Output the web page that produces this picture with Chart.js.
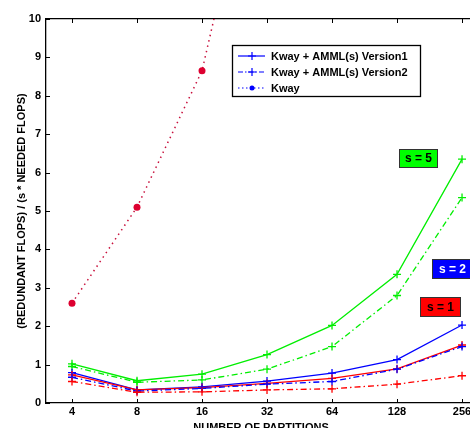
<!DOCTYPE html>
<html>
<head>
<meta charset="utf-8">
<script src="https://cdn.jsdelivr.net/npm/chart.js@4.4.1/dist/chart.umd.min.js"></script>
<style>
  html, body { margin: 0; padding: 0; background: #fff; overflow: hidden; }
  #wrap { width: 490px; height: 440px; }
</style>
</head>
<body>
<div id="wrap"><canvas id="flopsChart" width="490" height="440"></canvas></div>
<script>
const partitions = [4, 8, 16, 32, 64, 128, 256];
const kway = [2.6, 5.1, 8.65, 16];
const s5v1 = [1.02, 0.58, 0.75, 1.26, 2.02, 3.35, 6.35];
const s5v2 = [0.95, 0.54, 0.6, 0.88, 1.47, 2.8, 5.35];
const s2v1 = [0.79, 0.34, 0.42, 0.57, 0.78, 1.13, 2.03];
const s2v2 = [0.67, 0.31, 0.38, 0.49, 0.56, 0.88, 1.47];
const s1v1 = [0.73, 0.34, 0.4, 0.51, 0.64, 0.89, 1.51];
const s1v2 = [0.56, 0.28, 0.29, 0.34, 0.37, 0.49, 0.71];
const yTicks = [0, 1, 2, 3, 4, 5, 6, 7, 8, 9, 10];
const legendLabels = ["Kway + AMML(s) Version1", "Kway + AMML(s) Version2", "Kway"];
const tagLabels = ["s = 5", "s = 2", "s = 1"];

const FONT = "'Liberation Sans', Arial, sans-serif";
const dashDot = [6, 3, 1.5, 3];
const dotted = [1.5, 4];

function pts(arr) {
  return arr.map((v, i) => ({ x: Math.log2(partitions[i]), y: v }));
}

function line(data, color, dash) {
  return {
    data: pts(data),
    borderColor: color,
    backgroundColor: color,
    borderWidth: 1.3,
    borderDash: dash || [],
    pointStyle: "cross",
    pointRadius: 4,
    pointBorderWidth: 1.3,
    tension: 0,
  };
}

// legend box, coloured tags and inward ticks drawn by hand
const decorations = {
  id: "decorations",
  afterDatasetsDraw(chart) {
    const ctx = chart.ctx;
    const xs = chart.scales.x, ys = chart.scales.y;
    const area = chart.chartArea;
    ctx.save();
    ctx.strokeStyle = "#000";
    ctx.lineWidth = 1;
    partitions.forEach((p) => {
      const px = Math.round(xs.getPixelForValue(Math.log2(p))) + 0.5;
      ctx.beginPath();
      ctx.moveTo(px, area.bottom); ctx.lineTo(px, area.bottom - 4);
      ctx.moveTo(px, area.top); ctx.lineTo(px, area.top + 4);
      ctx.stroke();
    });
    yTicks.forEach((v) => {
      const py = Math.round(ys.getPixelForValue(v)) + 0.5;
      ctx.beginPath();
      ctx.moveTo(area.left, py); ctx.lineTo(area.left + 4, py);
      ctx.stroke();
    });

    // legend
    ctx.fillStyle = "#fff";
    ctx.fillRect(232, 45, 188, 51);
    ctx.lineWidth = 1.3;
    ctx.strokeRect(232.5, 45.5, 188, 51);
    const dashes = [[], [5, 2, 1.5, 2], [1.5, 2.5]];
    ctx.font = "bold 11px " + FONT;
    ctx.textBaseline = "middle";
    legendLabels.forEach((lab, i) => {
      const y = 56 + i * 16;
      ctx.strokeStyle = "#0000ff";
      ctx.lineWidth = 1.2;
      ctx.setLineDash(dashes[i]);
      ctx.beginPath(); ctx.moveTo(238, y); ctx.lineTo(265, y); ctx.stroke();
      ctx.setLineDash([]);
      if (i < 2) {
        ctx.beginPath();
        ctx.moveTo(248, y); ctx.lineTo(256, y);
        ctx.moveTo(252, y - 4); ctx.lineTo(252, y + 4);
        ctx.stroke();
      } else {
        ctx.fillStyle = "#0000ff";
        ctx.beginPath(); ctx.arc(252, y, 2.5, 0, Math.PI * 2); ctx.fill();
      }
      ctx.fillStyle = "#000";
      ctx.fillText(lab, 271, y + 0.5);
    });

    // s tags
    const tags = [
      { x: 399, y: 149, w: 38, h: 18, fill: "#00ff00", text: "#000" },
      { x: 432, y: 259, w: 40, h: 19, fill: "#0000ff", text: "#fff" },
      { x: 420, y: 297, w: 40, h: 19, fill: "#ff0000", text: "#000" },
    ];
    ctx.font = "bold 12px " + FONT;
    ctx.textAlign = "center";
    tags.forEach((t, i) => {
      ctx.fillStyle = t.fill;
      ctx.fillRect(t.x, t.y, t.w, t.h);
      ctx.strokeStyle = "#333";
      ctx.lineWidth = 1;
      ctx.strokeRect(t.x + 0.5, t.y + 0.5, t.w, t.h);
      ctx.fillStyle = t.text;
      ctx.fillText(tagLabels[i], t.x + t.w / 2 + 0.5, t.y + t.h / 2 + 1);
    });
    ctx.restore();
  },
};

const kwaySet = {
  data: pts(kway),
  borderColor: "#c8103c",
  backgroundColor: "#dd0030",
  borderWidth: 1.5,
  borderDash: dotted,
  pointStyle: "circle",
  pointRadius: 3.5,
  pointBorderWidth: 0,
  tension: 0,
};

new Chart(document.getElementById("flopsChart"), {
  type: "line",
  data: {
    datasets: [
      line(s1v2, "#ff0000", dashDot),
      line(s2v2, "#0000ff", dashDot),
      line(s1v1, "#ff0000"),
      line(s2v1, "#0000ff"),
      line(s5v2, "#00ee00", dashDot),
      line(s5v1, "#00ee00"),
      kwaySet,
    ],
  },
  options: {
    responsive: false,
    animation: false,
    layout: { padding: { top: 19, right: 14, left: 0, bottom: 0 } },
    plugins: { legend: { display: false }, tooltip: { enabled: false } },
    scales: {
      x: {
        type: "linear",
        min: 1.6,
        max: 8.215,
        afterBuildTicks: (s) => { s.ticks = partitions.map((p) => ({ value: Math.log2(p) })); },
        afterFit: (s) => { s.height = 37; },
        grid: { drawOnChartArea: false, drawTicks: false },
        border: { color: "#000", width: 1.3 },
        ticks: {
          padding: 2,
          color: "#000",
          font: { family: FONT, size: 11, weight: "bold" },
          callback: (v) => String(Math.round(Math.pow(2, v))),
          maxRotation: 0,
        },
        title: {
          display: true,
          text: "NUMBER OF PARTITIONS",
          color: "#000",
          font: { family: FONT, size: 11, weight: "bold" },
          padding: { top: 0, bottom: 5 },
        },
      },
      x2: {
        type: "linear", position: "top", min: 1.6, max: 8.215,
        display: true,
        afterFit: (s) => { s.height = 0; },
        grid: { drawOnChartArea: false, drawTicks: false },
        border: { color: "#000", width: 1.3 },
        ticks: { display: false },
      },
      y: {
        min: 0,
        max: 10,
        afterBuildTicks: (s) => { s.ticks = yTicks.map((v) => ({ value: v })); },
        afterFit: (s) => { s.width = 46; },
        grid: { drawOnChartArea: false, drawTicks: false },
        border: { color: "#000", width: 1.3 },
        ticks: {
          padding: 5,
          color: "#000",
          font: { family: FONT, size: 11, weight: "bold" },
        },
        title: {
          display: true,
          text: "(REDUNDANT FLOPS) / (s * NEEDED FLOPS)",
          color: "#000",
          font: { family: FONT, size: 11, weight: "bold" },
          padding: { top: 15, bottom: 0 },
        },
      },
    },
  },
  plugins: [decorations],
});
</script>
</body>
</html>
